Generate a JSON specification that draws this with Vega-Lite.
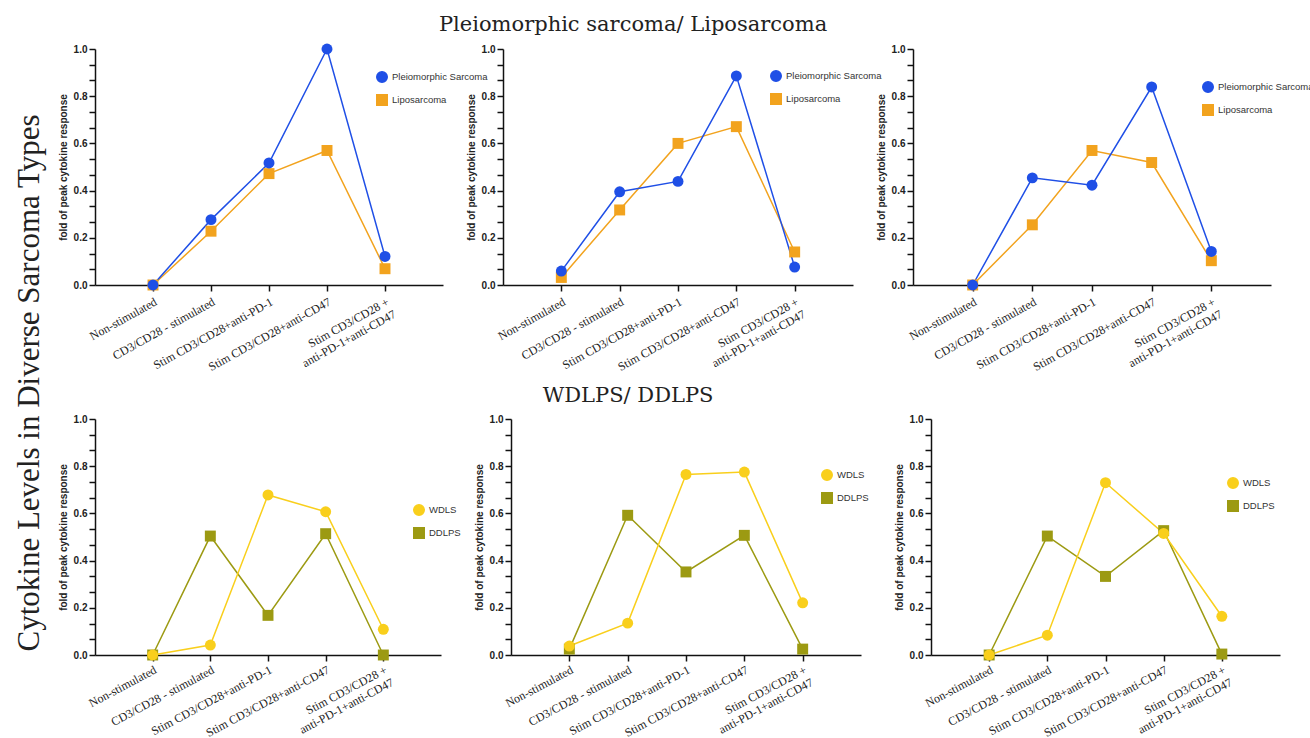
{
  "$schema": "https://vega.github.io/schema/vega-lite/v6.json",
  "background": "white",
  "padding": {"left": 14, "top": 13, "right": 5, "bottom": 0},
  "config": {
    "view": {"stroke": null},
    "axis": {"domainColor": "#111", "domainWidth": 1.5, "tickColor": "#111", "tickWidth": 1.5, "grid": false},
    "axisX": {"labelFont": "Liberation Serif", "labelFontSize": 12, "labelAngle": -29, "labelAlign": "right", "labelBaseline": "top", "tickSize": 6, "labelColor": "#222", "labelPadding": 5, "title": null},
    "axisY": {"labelFont": "Liberation Sans", "labelFontWeight": "bold", "labelFontSize": 10, "labelColor": "#222", "titleFont": "Liberation Sans", "titleFontWeight": "bold", "titleFontSize": 10, "titleColor": "#222", "tickSize": 6, "titlePadding": 5},
    "legend": {"labelFont": "Liberation Sans", "labelFontSize": 9.5, "labelColor": "#333", "symbolSize": 110, "rowPadding": 5, "title": null, "orient": "none", "symbolStrokeWidth": 1.5},
    "title": {"font": "DejaVu Serif", "fontSize": 21, "fontWeight": "normal", "color": "#222"}
  },
  "title": {"text": "Cytokine Levels in Diverse Sarcoma Types", "orient": "left", "anchor": "middle", "font": "Liberation Serif", "fontSize": 31, "offset": 12, "dx": -7},
  "data": {"values": [
    {"panel": "A1", "group": "Liposarcoma", "condition": "Non-stimulated", "value": 0.0},
    {"panel": "A1", "group": "Liposarcoma", "condition": "CD3/CD28 - stimulated", "value": 0.228},
    {"panel": "A1", "group": "Liposarcoma", "condition": "Stim CD3/CD28+anti-PD-1", "value": 0.472},
    {"panel": "A1", "group": "Liposarcoma", "condition": "Stim CD3/CD28+anti-CD47", "value": 0.570},
    {"panel": "A1", "group": "Liposarcoma", "condition": "Stim CD3/CD28 + anti-PD-1+anti-CD47", "value": 0.069},
    {"panel": "A1", "group": "Pleiomorphic Sarcoma", "condition": "Non-stimulated", "value": 0.0},
    {"panel": "A1", "group": "Pleiomorphic Sarcoma", "condition": "CD3/CD28 - stimulated", "value": 0.277},
    {"panel": "A1", "group": "Pleiomorphic Sarcoma", "condition": "Stim CD3/CD28+anti-PD-1", "value": 0.517},
    {"panel": "A1", "group": "Pleiomorphic Sarcoma", "condition": "Stim CD3/CD28+anti-CD47", "value": 1.0},
    {"panel": "A1", "group": "Pleiomorphic Sarcoma", "condition": "Stim CD3/CD28 + anti-PD-1+anti-CD47", "value": 0.121},
    {"panel": "A2", "group": "Liposarcoma", "condition": "Non-stimulated", "value": 0.032},
    {"panel": "A2", "group": "Liposarcoma", "condition": "CD3/CD28 - stimulated", "value": 0.318},
    {"panel": "A2", "group": "Liposarcoma", "condition": "Stim CD3/CD28+anti-PD-1", "value": 0.600},
    {"panel": "A2", "group": "Liposarcoma", "condition": "Stim CD3/CD28+anti-CD47", "value": 0.671},
    {"panel": "A2", "group": "Liposarcoma", "condition": "Stim CD3/CD28 + anti-PD-1+anti-CD47", "value": 0.140},
    {"panel": "A2", "group": "Pleiomorphic Sarcoma", "condition": "Non-stimulated", "value": 0.059},
    {"panel": "A2", "group": "Pleiomorphic Sarcoma", "condition": "CD3/CD28 - stimulated", "value": 0.395},
    {"panel": "A2", "group": "Pleiomorphic Sarcoma", "condition": "Stim CD3/CD28+anti-PD-1", "value": 0.439},
    {"panel": "A2", "group": "Pleiomorphic Sarcoma", "condition": "Stim CD3/CD28+anti-CD47", "value": 0.886},
    {"panel": "A2", "group": "Pleiomorphic Sarcoma", "condition": "Stim CD3/CD28 + anti-PD-1+anti-CD47", "value": 0.076},
    {"panel": "A3", "group": "Liposarcoma", "condition": "Non-stimulated", "value": 0.0},
    {"panel": "A3", "group": "Liposarcoma", "condition": "CD3/CD28 - stimulated", "value": 0.255},
    {"panel": "A3", "group": "Liposarcoma", "condition": "Stim CD3/CD28+anti-PD-1", "value": 0.570},
    {"panel": "A3", "group": "Liposarcoma", "condition": "Stim CD3/CD28+anti-CD47", "value": 0.519},
    {"panel": "A3", "group": "Liposarcoma", "condition": "Stim CD3/CD28 + anti-PD-1+anti-CD47", "value": 0.103},
    {"panel": "A3", "group": "Pleiomorphic Sarcoma", "condition": "Non-stimulated", "value": 0.0},
    {"panel": "A3", "group": "Pleiomorphic Sarcoma", "condition": "CD3/CD28 - stimulated", "value": 0.454},
    {"panel": "A3", "group": "Pleiomorphic Sarcoma", "condition": "Stim CD3/CD28+anti-PD-1", "value": 0.423},
    {"panel": "A3", "group": "Pleiomorphic Sarcoma", "condition": "Stim CD3/CD28+anti-CD47", "value": 0.839},
    {"panel": "A3", "group": "Pleiomorphic Sarcoma", "condition": "Stim CD3/CD28 + anti-PD-1+anti-CD47", "value": 0.142},
    {"panel": "B1", "group": "DDLPS", "condition": "Non-stimulated", "value": 0.0},
    {"panel": "B1", "group": "DDLPS", "condition": "CD3/CD28 - stimulated", "value": 0.504},
    {"panel": "B1", "group": "DDLPS", "condition": "Stim CD3/CD28+anti-PD-1", "value": 0.168},
    {"panel": "B1", "group": "DDLPS", "condition": "Stim CD3/CD28+anti-CD47", "value": 0.514},
    {"panel": "B1", "group": "DDLPS", "condition": "Stim CD3/CD28 + anti-PD-1+anti-CD47", "value": 0.0},
    {"panel": "B1", "group": "WDLS", "condition": "Non-stimulated", "value": 0.0},
    {"panel": "B1", "group": "WDLS", "condition": "CD3/CD28 - stimulated", "value": 0.042},
    {"panel": "B1", "group": "WDLS", "condition": "Stim CD3/CD28+anti-PD-1", "value": 0.678},
    {"panel": "B1", "group": "WDLS", "condition": "Stim CD3/CD28+anti-CD47", "value": 0.607},
    {"panel": "B1", "group": "WDLS", "condition": "Stim CD3/CD28 + anti-PD-1+anti-CD47", "value": 0.109},
    {"panel": "B2", "group": "DDLPS", "condition": "Non-stimulated", "value": 0.025},
    {"panel": "B2", "group": "DDLPS", "condition": "CD3/CD28 - stimulated", "value": 0.592},
    {"panel": "B2", "group": "DDLPS", "condition": "Stim CD3/CD28+anti-PD-1", "value": 0.352},
    {"panel": "B2", "group": "DDLPS", "condition": "Stim CD3/CD28+anti-CD47", "value": 0.507},
    {"panel": "B2", "group": "DDLPS", "condition": "Stim CD3/CD28 + anti-PD-1+anti-CD47", "value": 0.025},
    {"panel": "B2", "group": "WDLS", "condition": "Non-stimulated", "value": 0.038},
    {"panel": "B2", "group": "WDLS", "condition": "CD3/CD28 - stimulated", "value": 0.135},
    {"panel": "B2", "group": "WDLS", "condition": "Stim CD3/CD28+anti-PD-1", "value": 0.765},
    {"panel": "B2", "group": "WDLS", "condition": "Stim CD3/CD28+anti-CD47", "value": 0.775},
    {"panel": "B2", "group": "WDLS", "condition": "Stim CD3/CD28 + anti-PD-1+anti-CD47", "value": 0.221},
    {"panel": "B3", "group": "DDLPS", "condition": "Non-stimulated", "value": 0.0},
    {"panel": "B3", "group": "DDLPS", "condition": "CD3/CD28 - stimulated", "value": 0.504},
    {"panel": "B3", "group": "DDLPS", "condition": "Stim CD3/CD28+anti-PD-1", "value": 0.333},
    {"panel": "B3", "group": "DDLPS", "condition": "Stim CD3/CD28+anti-CD47", "value": 0.527},
    {"panel": "B3", "group": "DDLPS", "condition": "Stim CD3/CD28 + anti-PD-1+anti-CD47", "value": 0.004},
    {"panel": "B3", "group": "WDLS", "condition": "Non-stimulated", "value": 0.0},
    {"panel": "B3", "group": "WDLS", "condition": "CD3/CD28 - stimulated", "value": 0.084},
    {"panel": "B3", "group": "WDLS", "condition": "Stim CD3/CD28+anti-PD-1", "value": 0.730},
    {"panel": "B3", "group": "WDLS", "condition": "Stim CD3/CD28+anti-CD47", "value": 0.515},
    {"panel": "B3", "group": "WDLS", "condition": "Stim CD3/CD28 + anti-PD-1+anti-CD47", "value": 0.164}
  ]},
  "resolve": {"scale": {"color": "independent", "shape": "independent", "x": "independent", "y": "independent"}},
  "spacing": 12,
  "vconcat": [
    {
      "title": {"text": "Pleiomorphic sarcoma/ Liposarcoma", "anchor": "middle", "dx": -53, "offset": 9},
      "bounds": "flush",
      "spacing": 60,
      "resolve": {"scale": {"color": "independent", "shape": "independent", "x": "independent", "y": "independent"}},
      "hconcat": [
        {
          "width": 348, "height": 236,
          "transform": [{"filter": "datum.panel == 'A1'"}],
          "mark": {"type": "line", "strokeWidth": 1.5, "point": {"filled": true, "size": 120, "opacity": 1}},
          "encoding": {
            "x": {"field": "condition", "type": "nominal", "scale": {"type": "point", "padding": 1, "domain": ["Non-stimulated", "CD3/CD28 - stimulated", "Stim CD3/CD28+anti-PD-1", "Stim CD3/CD28+anti-CD47", "Stim CD3/CD28 + anti-PD-1+anti-CD47"]}, "axis": {"labelExpr": "datum.label == 'Stim CD3/CD28 + anti-PD-1+anti-CD47' ? ['Stim CD3/CD28 +', 'anti-PD-1+anti-CD47'] : datum.label"}},
            "y": {"field": "value", "type": "quantitative", "scale": {"domain": [0, 1], "nice": false}, "axis": {"title": "fold of peak cytokine response", "values": [0, 0.0667, 0.1333, 0.2, 0.2667, 0.3333, 0.4, 0.4667, 0.5333, 0.6, 0.6667, 0.7333, 0.8, 0.8667, 0.9333, 1.0], "labelExpr": "abs(datum.value*5-round(datum.value*5))<0.01 ? format(datum.value,'.1f') : ''"}},
            "color": {"field": "group", "type": "nominal", "scale": {"domain": ["Pleiomorphic Sarcoma", "Liposarcoma"], "range": ["#1f4fe6", "#f2a31e"]}, "legend": {"legendX": 281, "legendY": 22}},
            "shape": {"field": "group", "type": "nominal", "scale": {"domain": ["Pleiomorphic Sarcoma", "Liposarcoma"], "range": ["circle", "square"]}, "legend": {"legendX": 281, "legendY": 22}}
          }
        },
        {
          "width": 350, "height": 236,
          "transform": [{"filter": "datum.panel == 'A2'"}],
          "mark": {"type": "line", "strokeWidth": 1.5, "point": {"filled": true, "size": 120, "opacity": 1}},
          "encoding": {
            "x": {"field": "condition", "type": "nominal", "scale": {"type": "point", "padding": 1, "domain": ["Non-stimulated", "CD3/CD28 - stimulated", "Stim CD3/CD28+anti-PD-1", "Stim CD3/CD28+anti-CD47", "Stim CD3/CD28 + anti-PD-1+anti-CD47"]}, "axis": {"labelExpr": "datum.label == 'Stim CD3/CD28 + anti-PD-1+anti-CD47' ? ['Stim CD3/CD28 +', 'anti-PD-1+anti-CD47'] : datum.label"}},
            "y": {"field": "value", "type": "quantitative", "scale": {"domain": [0, 1], "nice": false}, "axis": {"title": "fold of peak cytokine response", "values": [0, 0.0667, 0.1333, 0.2, 0.2667, 0.3333, 0.4, 0.4667, 0.5333, 0.6, 0.6667, 0.7333, 0.8, 0.8667, 0.9333, 1.0], "labelExpr": "abs(datum.value*5-round(datum.value*5))<0.01 ? format(datum.value,'.1f') : ''"}},
            "color": {"field": "group", "type": "nominal", "scale": {"domain": ["Pleiomorphic Sarcoma", "Liposarcoma"], "range": ["#1f4fe6", "#f2a31e"]}, "legend": {"legendX": 267, "legendY": 21}},
            "shape": {"field": "group", "type": "nominal", "scale": {"domain": ["Pleiomorphic Sarcoma", "Liposarcoma"], "range": ["circle", "square"]}, "legend": {"legendX": 267, "legendY": 21}}
          }
        },
        {
          "width": 358, "height": 236,
          "transform": [{"filter": "datum.panel == 'A3'"}],
          "mark": {"type": "line", "strokeWidth": 1.5, "point": {"filled": true, "size": 120, "opacity": 1}},
          "encoding": {
            "x": {"field": "condition", "type": "nominal", "scale": {"type": "point", "padding": 1, "domain": ["Non-stimulated", "CD3/CD28 - stimulated", "Stim CD3/CD28+anti-PD-1", "Stim CD3/CD28+anti-CD47", "Stim CD3/CD28 + anti-PD-1+anti-CD47"]}, "axis": {"labelExpr": "datum.label == 'Stim CD3/CD28 + anti-PD-1+anti-CD47' ? ['Stim CD3/CD28 +', 'anti-PD-1+anti-CD47'] : datum.label"}},
            "y": {"field": "value", "type": "quantitative", "scale": {"domain": [0, 1], "nice": false}, "axis": {"title": "fold of peak cytokine response", "values": [0, 0.0667, 0.1333, 0.2, 0.2667, 0.3333, 0.4, 0.4667, 0.5333, 0.6, 0.6667, 0.7333, 0.8, 0.8667, 0.9333, 1.0], "labelExpr": "abs(datum.value*5-round(datum.value*5))<0.01 ? format(datum.value,'.1f') : ''"}},
            "color": {"field": "group", "type": "nominal", "scale": {"domain": ["Pleiomorphic Sarcoma", "Liposarcoma"], "range": ["#1f4fe6", "#f2a31e"]}, "legend": {"legendX": 289, "legendY": 32}},
            "shape": {"field": "group", "type": "nominal", "scale": {"domain": ["Pleiomorphic Sarcoma", "Liposarcoma"], "range": ["circle", "square"]}, "legend": {"legendX": 289, "legendY": 32}}
          }
        }
      ]
    },
    {
      "title": {"text": "WDLPS/ DDLPS", "anchor": "middle", "dx": -41, "offset": 8},
      "bounds": "flush",
      "spacing": 70,
      "resolve": {"scale": {"color": "independent", "shape": "independent", "x": "independent", "y": "independent"}},
      "hconcat": [
        {
          "width": 346, "height": 236,
          "transform": [{"filter": "datum.panel == 'B1'"}],
          "mark": {"type": "line", "strokeWidth": 1.5, "point": {"filled": true, "size": 120, "opacity": 1}},
          "encoding": {
            "x": {"field": "condition", "type": "nominal", "scale": {"type": "point", "padding": 1, "domain": ["Non-stimulated", "CD3/CD28 - stimulated", "Stim CD3/CD28+anti-PD-1", "Stim CD3/CD28+anti-CD47", "Stim CD3/CD28 + anti-PD-1+anti-CD47"]}, "axis": {"labelPadding": 3, "labelAngle": -28, "labelExpr": "datum.label == 'Stim CD3/CD28 + anti-PD-1+anti-CD47' ? ['Stim CD3/CD28 +', 'anti-PD-1+anti-CD47'] : datum.label"}},
            "y": {"field": "value", "type": "quantitative", "scale": {"domain": [0, 1], "nice": false}, "axis": {"title": "fold of peak cytokine response", "values": [0, 0.0667, 0.1333, 0.2, 0.2667, 0.3333, 0.4, 0.4667, 0.5333, 0.6, 0.6667, 0.7333, 0.8, 0.8667, 0.9333, 1.0], "labelExpr": "abs(datum.value*5-round(datum.value*5))<0.01 ? format(datum.value,'.1f') : ''"}},
            "color": {"field": "group", "type": "nominal", "scale": {"domain": ["WDLS", "DDLPS"], "range": ["#f9cf1c", "#9c9a12"]}, "legend": {"legendX": 318, "legendY": 85}},
            "shape": {"field": "group", "type": "nominal", "scale": {"domain": ["WDLS", "DDLPS"], "range": ["circle", "square"]}, "legend": {"legendX": 318, "legendY": 85}}
          }
        },
        {
          "width": 350, "height": 236,
          "transform": [{"filter": "datum.panel == 'B2'"}],
          "mark": {"type": "line", "strokeWidth": 1.5, "point": {"filled": true, "size": 120, "opacity": 1}},
          "encoding": {
            "x": {"field": "condition", "type": "nominal", "scale": {"type": "point", "padding": 1, "domain": ["Non-stimulated", "CD3/CD28 - stimulated", "Stim CD3/CD28+anti-PD-1", "Stim CD3/CD28+anti-CD47", "Stim CD3/CD28 + anti-PD-1+anti-CD47"]}, "axis": {"labelPadding": 3, "labelAngle": -28, "labelExpr": "datum.label == 'Stim CD3/CD28 + anti-PD-1+anti-CD47' ? ['Stim CD3/CD28 +', 'anti-PD-1+anti-CD47'] : datum.label"}},
            "y": {"field": "value", "type": "quantitative", "scale": {"domain": [0, 1], "nice": false}, "axis": {"title": "fold of peak cytokine response", "values": [0, 0.0667, 0.1333, 0.2, 0.2667, 0.3333, 0.4, 0.4667, 0.5333, 0.6, 0.6667, 0.7333, 0.8, 0.8667, 0.9333, 1.0], "labelExpr": "abs(datum.value*5-round(datum.value*5))<0.01 ? format(datum.value,'.1f') : ''"}},
            "color": {"field": "group", "type": "nominal", "scale": {"domain": ["WDLS", "DDLPS"], "range": ["#f9cf1c", "#9c9a12"]}, "legend": {"legendX": 310, "legendY": 50}},
            "shape": {"field": "group", "type": "nominal", "scale": {"domain": ["WDLS", "DDLPS"], "range": ["circle", "square"]}, "legend": {"legendX": 310, "legendY": 50}}
          }
        },
        {
          "width": 349, "height": 236,
          "transform": [{"filter": "datum.panel == 'B3'"}],
          "mark": {"type": "line", "strokeWidth": 1.5, "point": {"filled": true, "size": 120, "opacity": 1}},
          "encoding": {
            "x": {"field": "condition", "type": "nominal", "scale": {"type": "point", "padding": 1, "domain": ["Non-stimulated", "CD3/CD28 - stimulated", "Stim CD3/CD28+anti-PD-1", "Stim CD3/CD28+anti-CD47", "Stim CD3/CD28 + anti-PD-1+anti-CD47"]}, "axis": {"labelPadding": 3, "labelAngle": -28, "labelExpr": "datum.label == 'Stim CD3/CD28 + anti-PD-1+anti-CD47' ? ['Stim CD3/CD28 +', 'anti-PD-1+anti-CD47'] : datum.label"}},
            "y": {"field": "value", "type": "quantitative", "scale": {"domain": [0, 1], "nice": false}, "axis": {"title": "fold of peak cytokine response", "values": [0, 0.0667, 0.1333, 0.2, 0.2667, 0.3333, 0.4, 0.4667, 0.5333, 0.6, 0.6667, 0.7333, 0.8, 0.8667, 0.9333, 1.0], "labelExpr": "abs(datum.value*5-round(datum.value*5))<0.01 ? format(datum.value,'.1f') : ''"}},
            "color": {"field": "group", "type": "nominal", "scale": {"domain": ["WDLS", "DDLPS"], "range": ["#f9cf1c", "#9c9a12"]}, "legend": {"legendX": 296, "legendY": 58}},
            "shape": {"field": "group", "type": "nominal", "scale": {"domain": ["WDLS", "DDLPS"], "range": ["circle", "square"]}, "legend": {"legendX": 296, "legendY": 58}}
          }
        }
      ]
    }
  ]
}
